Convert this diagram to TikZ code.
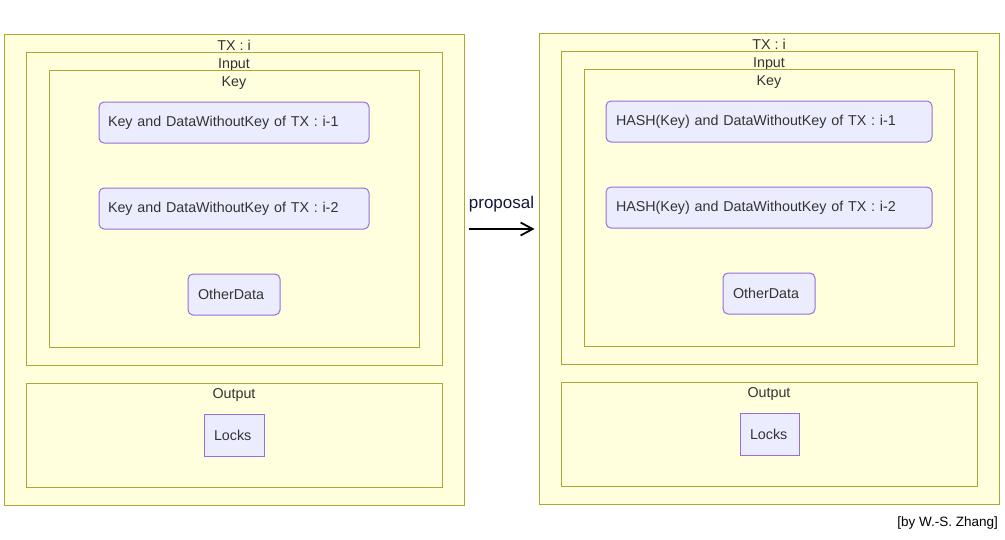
\documentclass[tikz,border=0pt]{standalone}
\usepackage{fontspec}
\setmainfont{Liberation Sans}
\usetikzlibrary{arrows.meta}
\definecolor{clfill}{HTML}{FFFFDE}
\definecolor{clline}{HTML}{AAAA33}
\definecolor{boxfill}{HTML}{ECECFF}
\definecolor{boxline}{HTML}{9370DB}
\definecolor{txtgray}{HTML}{333333}
\definecolor{proptxt}{RGB}{22,22,58}
\tikzset{
  cluster/.style={draw=clline, fill=clfill, line width=1pt, inner sep=0pt},
  title/.style={text=txtgray, font=\fontsize{14.3}{16}\selectfont, inner sep=0pt, anchor=base},
  databox/.style={draw=boxline, fill=boxfill, line width=1pt, rounded corners=5pt,
    text=txtgray, font=\fontsize{14.3}{16}\selectfont, align=left, inner ysep=0pt},
  lockbox/.style={databox, rounded corners=0pt}
}

\begin{document}
\begin{tikzpicture}[x=1pt,y=-1pt]
\useasboundingbox (0,0) rectangle (1005,539);

% left transaction
\node[cluster, minimum width=460pt, minimum height=471pt] (txL) at (234,269.5) {};
\node[title] (txLt) at (234,50) {TX : i};
\node[cluster, minimum width=416pt, minimum height=313pt] (inL) at (234,208.5) {};
\node[title] (inLt) at (234,68) {Input};
\node[cluster, minimum width=370pt, minimum height=277pt] (keyL) at (234,208.5) {};
\node[title] (keyLt) at (234,86) {Key};
\node[databox, minimum width=270pt, minimum height=41pt, inner xsep=9pt, text width=252pt] (kL1) at (234,122.5) {Key and DataWithoutKey of TX : i-1};
\node[databox, minimum width=270pt, minimum height=41pt, inner xsep=9pt, text width=252pt] (kL2) at (234,208.5) {Key and DataWithoutKey of TX : i-2};
\node[databox, minimum width=92pt, minimum height=41pt, inner xsep=10pt, text width=72pt] (odL) at (234,294.5) {OtherData};
\node[cluster, minimum width=416pt, minimum height=104pt] (outL) at (234,435) {};
\node[title] (outLt) at (234,398) {Output};
\node[lockbox, minimum width=60pt, minimum height=42pt, inner xsep=10pt, text width=40pt] (lkL) at (234,435) {Locks};

% right transaction
\node[cluster, minimum width=460pt, minimum height=471pt] (txR) at (769,268.5) {};
\node[title] (txRt) at (769,49) {TX : i};
\node[cluster, minimum width=416pt, minimum height=313pt] (inR) at (769,207.5) {};
\node[title] (inRt) at (769,67) {Input};
\node[cluster, minimum width=370pt, minimum height=277pt] (keyR) at (769,207.5) {};
\node[title] (keyRt) at (769,85) {Key};
\node[databox, minimum width=326pt, minimum height=41pt, inner xsep=10pt, text width=306pt] (kR1) at (769,121.5) {HASH(Key) and DataWithoutKey of TX : i-1};
\node[databox, minimum width=326pt, minimum height=41pt, inner xsep=10pt, text width=306pt] (kR2) at (769,207.5) {HASH(Key) and DataWithoutKey of TX : i-2};
\node[databox, minimum width=92pt, minimum height=41pt, inner xsep=10pt, text width=72pt] (odR) at (769,293.5) {OtherData};
\node[cluster, minimum width=416pt, minimum height=104pt] (outR) at (769,434) {};
\node[title] (outRt) at (769,397) {Output};
\node[lockbox, minimum width=59pt, minimum height=42pt, inner xsep=10pt, text width=39pt] (lkR) at (769.5,434) {Locks};

% proposal arrow
\draw[-{Straight Barb[length=12pt,width=13pt]}, line width=1.8pt, shorten <=4pt, shorten >=4pt]
  ([yshift=40.5pt]txL.east) -- ([yshift=39.5pt]txR.west)
  node[midway, above=16pt, inner sep=0pt, text=proptxt, font=\fontsize{17}{19}\selectfont] (prop) {proposal};

\node[anchor=base east, inner sep=0pt, font=\fontsize{13.5}{15}\selectfont] (credit) at (998,526) {[by W.-S. Zhang]};
\end{tikzpicture}
\end{document}
